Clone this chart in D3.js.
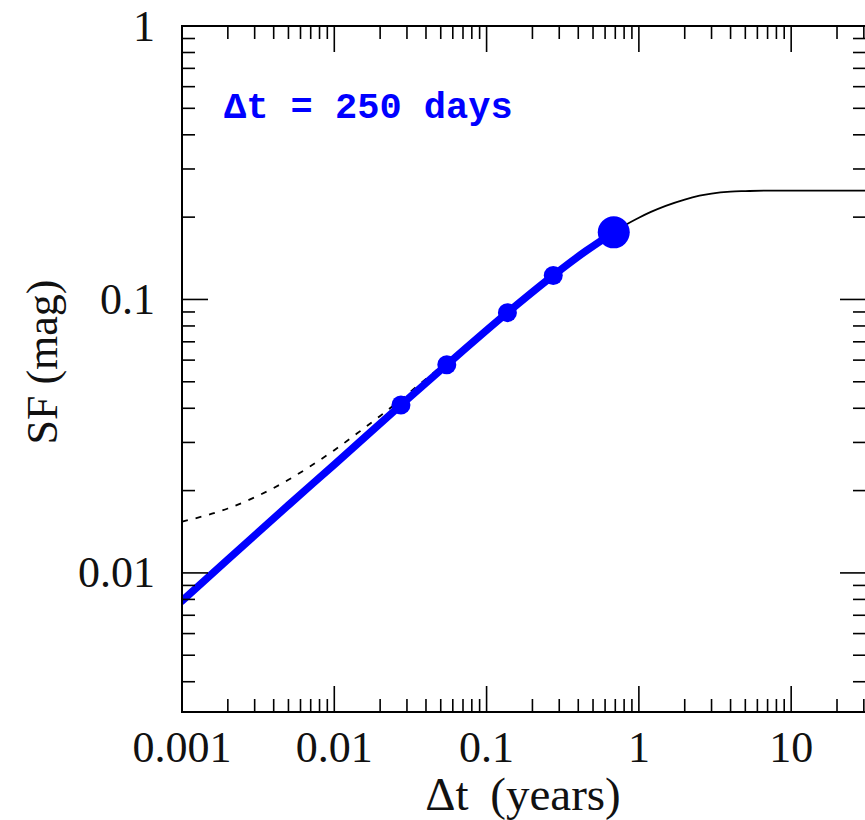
<!DOCTYPE html>
<html>
<head>
<meta charset="utf-8">
<script src="https://cdnjs.cloudflare.com/ajax/libs/d3/7.8.5/d3.min.js"></script>
<style>
  body { margin: 0; background: #fff; }
  svg text { font-family: "Liberation Serif", "Times New Roman", serif; }
</style>
</head>
<body>
<div id="chart"></div>
<script>
var w = 865,
    h = 820;

// model curve (blue, thick)
var blueT  = [0.001, 0.002, 0.005, 0.01, 0.0274, 0.0548, 0.137, 0.274, 0.45, 0.684];
var blueSF = [0.0079, 0.0112, 0.0177, 0.0249, 0.0411, 0.0577, 0.0895, 0.1224, 0.1505, 0.176];

// thin black continuation to the plateau
var solidT  = [0.5, 0.684, 0.8, 1, 1.2, 1.5, 2, 2.5, 3, 4, 5, 7, 10, 31];
var solidSF = [0.1568, 0.176, 0.186, 0.199, 0.209, 0.220, 0.232, 0.2395, 0.244, 0.248, 0.249, 0.250, 0.250, 0.250];

// dashed curve (with noise floor)
var dashT  = [0.001, 0.002, 0.003, 0.005, 0.007, 0.01, 0.015, 0.02, 0.0274, 0.04, 0.055];
var dashSF = [0.0154, 0.0172, 0.0189, 0.0219, 0.0246, 0.0281, 0.0332, 0.0375, 0.0431, 0.0512, 0.0592];

// sampled lags
var dotT  = [0.0274, 0.0548, 0.137, 0.274];
var dotSF = [0.0411, 0.0577, 0.0895, 0.1224];
var bigT  = [0.684];
var bigSF = [0.176];

var xMajor = [0.001, 0.01, 0.1, 1, 10];
var xLabels = ["0.001", "0.01", "0.1", "1", "10"];
var yMajor = [1, 0.1, 0.01];
var yLabels = ["1", "0.1", "0.01"];

var x = d3.scaleLog().domain([0.001, 31]).range([182, 866]);
var y = d3.scaleLog().domain([0.0031, 1]).range([712, 26]);

var svg = d3.select("#chart").append("svg")
  .attr("width", w)
  .attr("height", h);

var x0 = x.range()[0], x1 = x.range()[1],
    y0 = y.range()[0], y1 = y.range()[1];

// minor ticks: 2..9 of every decade inside the domain
function minors(scale) {
  var d = scale.domain(), out = [];
  for (var e = -4; e <= 2; e++) {
    for (var m = 2; m <= 9; m++) {
      var v = m * Math.pow(10, e);
      if (v >= d[0] * 0.9999 && v <= d[1] * 1.0001) out.push(v);
    }
  }
  return out;
}

svg.append("clipPath").attr("id", "clip")
  .append("rect")
    .attr("x", x0).attr("y", y1)
    .attr("width", x1 - x0).attr("height", y0 - y1);

var plot = svg.append("g").attr("clip-path", "url(#clip)");

var line = d3.line()
  .x(function(d) { return x(d[0]); })
  .y(function(d) { return y(d[1]); })
  .curve(d3.curveMonotoneX);

plot.append("path")
  .attr("d", line(d3.zip(dashT, dashSF)))
  .attr("fill", "none")
  .attr("stroke", "#000")
  .attr("stroke-width", 1.8)
  .attr("stroke-dasharray", "6,8");

plot.append("path")
  .attr("d", line(d3.zip(solidT, solidSF)))
  .attr("fill", "none")
  .attr("stroke", "#000")
  .attr("stroke-width", 1.8);

plot.append("path")
  .attr("d", line(d3.zip(blueT, blueSF)))
  .attr("fill", "none")
  .attr("stroke", "#0000ff")
  .attr("stroke-width", 7.5)
  .attr("stroke-linecap", "round");

plot.selectAll(".dot")
  .data(d3.zip(dotT, dotSF))
  .enter().append("circle")
    .attr("class", "dot")
    .attr("cx", function(d) { return x(d[0]); })
    .attr("cy", function(d) { return y(d[1]); })
    .attr("r", 9.5)
    .attr("fill", "#0000ff");

plot.selectAll(".big")
  .data(d3.zip(bigT, bigSF))
  .enter().append("circle")
    .attr("class", "big")
    .attr("cx", function(d) { return x(d[0]); })
    .attr("cy", function(d) { return y(d[1]); })
    .attr("r", 16)
    .attr("fill", "#0000ff");

// frame
svg.append("rect")
  .attr("x", x0).attr("y", y1)
  .attr("width", x1 - x0).attr("height", y0 - y1)
  .attr("fill", "none")
  .attr("stroke", "#000")
  .attr("stroke-width", 2);

var ticks = svg.append("g")
  .attr("stroke", "#000")
  .attr("stroke-width", 1.6);

function xTicks(vals, len) {
  vals.forEach(function(v) {
    ticks.append("line").attr("x1", x(v)).attr("x2", x(v)).attr("y1", y0).attr("y2", y0 - len);
    ticks.append("line").attr("x1", x(v)).attr("x2", x(v)).attr("y1", y1).attr("y2", y1 + len);
  });
}
function yTicks(vals, len) {
  vals.forEach(function(v) {
    ticks.append("line").attr("y1", y(v)).attr("y2", y(v)).attr("x1", x0).attr("x2", x0 + len);
    ticks.append("line").attr("y1", y(v)).attr("y2", y(v)).attr("x1", x1).attr("x2", x1 - len);
  });
}
xTicks(xMajor, 26);
xTicks(minors(x), 13);
yTicks(yMajor, 26);
yTicks(minors(y), 13);

// tick labels
svg.selectAll(".xl")
  .data(xMajor)
  .enter().append("text")
    .attr("class", "xl")
    .attr("x", function(d) { return x(d); })
    .attr("y", 762)
    .attr("text-anchor", "middle")
    .attr("font-size", 44)
    .attr("fill", "#111")
    .text(function(d, i) { return xLabels[i]; });

svg.selectAll(".yl")
  .data(yMajor)
  .enter().append("text")
    .attr("class", "yl")
    .attr("x", 155)
    .attr("y", function(d) { return y(d) + 14.5; })
    .attr("text-anchor", "end")
    .attr("font-size", 44)
    .attr("fill", "#111")
    .text(function(d, i) { return yLabels[i]; });

// axis titles
svg.append("text")
  .attr("x", 523)
  .attr("y", 810)
  .attr("text-anchor", "middle")
  .attr("font-size", 47)
  .attr("word-spacing", 10)
  .attr("fill", "#111")
  .text("Δt (years)");

svg.append("text")
  .attr("transform", "translate(57,362) rotate(-90)")
  .attr("text-anchor", "middle")
  .attr("font-size", 44)
  .attr("fill", "#111")
  .text("SF (mag)");

// annotation
svg.append("text")
  .attr("x", 224)
  .attr("y", 118)
  .style("font-family", "'Liberation Mono', 'Courier New', monospace")
  .style("font-weight", "bold")
  .attr("font-size", 37)
  .attr("fill", "#0000ff")
  .text("Δt = 250 days");
</script>
</body>
</html>
